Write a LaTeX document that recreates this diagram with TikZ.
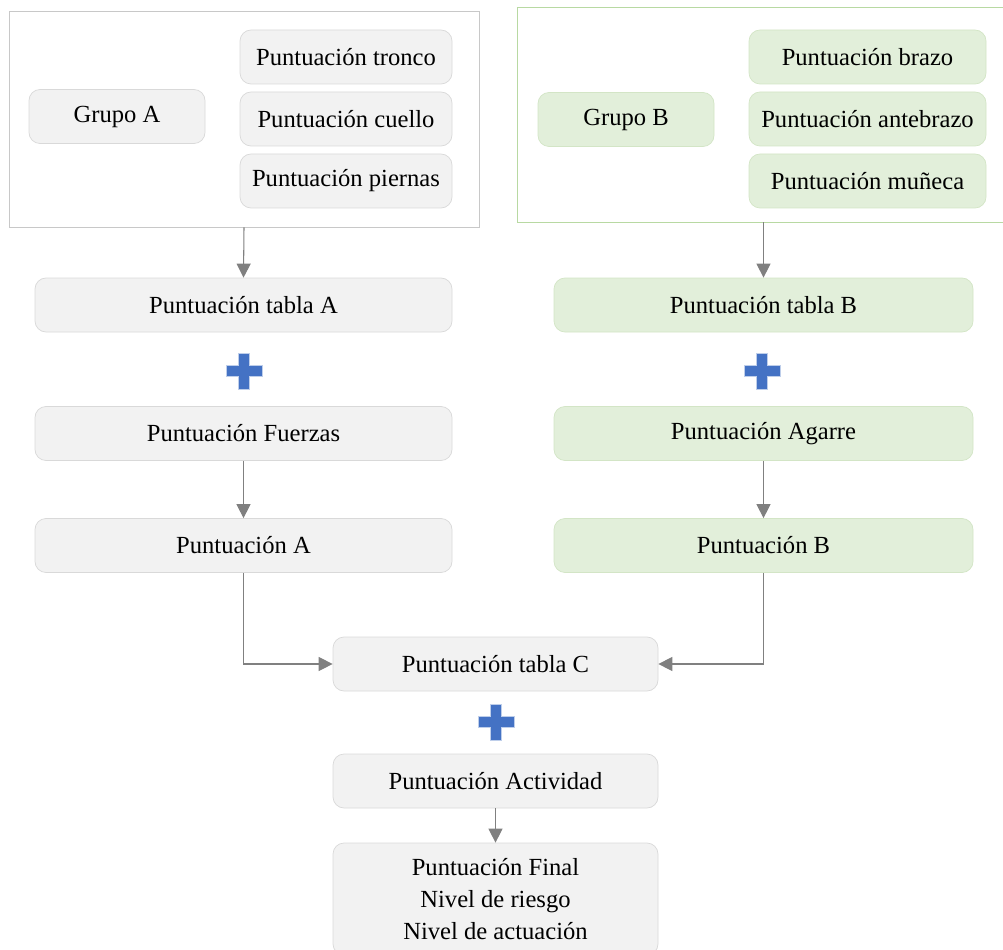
\documentclass[tikz,border=0pt]{standalone}
\usepackage{fontspec}
\setmainfont{Liberation Serif}
\newfontfamily\labelfont{Liberation Serif}
\usepackage{xcolor}
\usepackage{tikz}
\usetikzlibrary{arrows.meta,positioning,calc}

\definecolor{boxgray}{HTML}{F2F2F2}
\definecolor{edgegray}{HTML}{D9D9D9}
\definecolor{boxgreen}{HTML}{E2EFDA}
\definecolor{edgegreen}{HTML}{D3E5C6}
\definecolor{framegray}{HTML}{C8C8C8}
\definecolor{framegreen}{HTML}{B8D9A2}
\definecolor{plusblue}{HTML}{4472C4}
\definecolor{linkgray}{HTML}{808080}

\begin{document}
\begin{tikzpicture}[
      box/.style={rectangle, draw=edgegray, fill=boxgray, minimum height=1.08cm,
                  align=center, font=\labelfont\fontsize{14}{18.4}\selectfont, rounded corners=0.22cm,
                  inner sep=2pt, line width=0.4pt},
      gbox/.style={box, draw=edgegreen, fill=boxgreen},
      groupframe/.style={rectangle, draw, line width=0.55pt, inner sep=0pt},
      arrow/.style={-{Triangle[length=0.28cm, width=0.28cm]}, draw=linkgray, line width=0.6pt},
      bigplus/.pic={
        \filldraw[fill=plusblue, draw=plusblue!35, line width=0.3pt]
          (-0.11,0.36) -- (0.11,0.36) -- (0.11,0.11) -- (0.36,0.11) -- (0.36,-0.11)
          -- (0.11,-0.11) -- (0.11,-0.36) -- (-0.11,-0.36) -- (-0.11,-0.11)
          -- (-0.36,-0.11) -- (-0.36,0.11) -- (-0.11,0.11) -- cycle;
      },
    ]
    \useasboundingbox (0,0) rectangle (20.06,-19.0);

    % group frames
    \node[groupframe, draw=framegray, minimum width=9.4cm, minimum height=4.32cm]   (frameA) at (4.88,-2.38) {};
    \node[groupframe, draw=framegreen, minimum width=9.86cm, minimum height=4.3cm] (frameB) at (15.27,-2.29) {};

    % group A
    \node[box, minimum width=3.52cm] (grupoA)  at (2.34,-2.33) {Grupo A};
    \node[box, minimum width=4.24cm] (tronco)  at (6.92,-1.14) {Puntuación tronco};
    \node[box, minimum width=4.24cm] (cuello)  at (6.92,-2.38) {Puntuación cuello};
    \node[box, minimum width=4.24cm] (piernas) at (6.92,-3.62) {Puntuación piernas};

    % group B
    \node[gbox, minimum width=3.52cm] (grupoB)    at (12.52,-2.39) {Grupo B};
    \node[gbox, minimum width=4.74cm] (brazo)     at (17.35,-1.14) {Puntuación brazo};
    \node[gbox, minimum width=4.74cm] (antebrazo) at (17.35,-2.38) {Puntuación antebrazo};
    \node[gbox, minimum width=4.74cm] (muneca)    at (17.35,-3.62) {Puntuación muñeca};

    % left column
    \node[box, minimum width=8.34cm] (tablaA)  at (4.87,-6.1)   {Puntuación tabla A};
    \pic at (4.88,-7.42) {bigplus};
    \node[box, minimum width=8.34cm] (fuerzas) at (4.87,-8.67)  {Puntuación Fuerzas};
    \node[box, minimum width=8.34cm] (puntA)   at (4.87,-10.91) {Puntuación A};

    % right column
    \node[gbox, minimum width=8.38cm] (tablaB)  at (15.27,-6.1)   {Puntuación tabla B};
    \pic at (15.24,-7.42) {bigplus};
    \node[gbox, minimum width=8.38cm] (agarre)  at (15.27,-8.67)  {Puntuación Agarre};
    \node[gbox, minimum width=8.38cm] (puntB)   at (15.27,-10.91) {Puntuación B};

    % final part
    \node[box, minimum width=6.5cm] (tablaC)    at (9.91,-13.28) {Puntuación tabla C};
    \pic at (9.92,-14.44) {bigplus};
    \node[box, minimum width=6.5cm] (actividad) at (9.91,-15.62) {Puntuación Actividad};
    \node[box, minimum width=6.5cm, minimum height=2.24cm] (final) at (9.91,-17.98)
      {Puntuación Final\\Nivel de riesgo\\Nivel de actuación};

    \draw[arrow] (frameA.south) -- (tablaA.north);
    \draw[arrow] (frameB.south) -- (tablaB.north);
    \draw[arrow] (fuerzas) -- (puntA);
    \draw[arrow] (agarre) -- (puntB);
    \draw[arrow] (puntA.south) |- (tablaC.west);
    \draw[arrow] (puntB.south) |- (tablaC.east);
    \draw[arrow] (actividad) -- (final);
  \end{tikzpicture}
\end{document}
